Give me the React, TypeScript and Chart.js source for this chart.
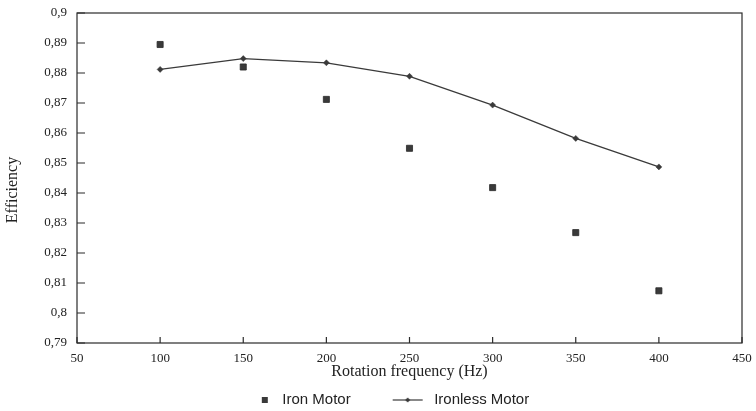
import React, { useEffect, useRef } from 'react';
import { Chart, registerables } from 'chart.js';

Chart.register(...registerables);

// ---- data ----
const frequencies = [100, 150, 200, 250, 300, 350, 400];
const ironMotor = [0.8895, 0.882, 0.8712, 0.8549, 0.8418, 0.8268, 0.8074];
const ironlessMotor = [0.8812, 0.8848, 0.8834, 0.8789, 0.8693, 0.8582, 0.8487];
const seriesNames = ['Iron Motor', 'Ironless Motor'];
const xAxisTitle = 'Rotation frequency (Hz)';
const yAxisTitle = 'Efficiency';
const xRange = [50, 450];
const xStep = 50;
const yRange = [0.79, 0.9];
const yStep = 0.01;

const INK = '#2b2b2b';
const SERIF = "'Liberation Serif', 'Times New Roman', serif";
const SANS = "'Liberation Sans', Arial, sans-serif";

function formatY(v: number): string {
  return String(Math.round(v * 100) / 100).replace('.', ',');
}

function makeIronIcon(): HTMLCanvasElement {
  const c = document.createElement('canvas');
  c.width = 62;
  c.height = 12;
  const ctx = c.getContext('2d')!;
  ctx.fillStyle = '#3a3a3a';
  ctx.fillRect(49, 3, 6, 6);
  return c;
}

function makeIronlessIcon(): HTMLCanvasElement {
  const c = document.createElement('canvas');
  c.width = 62;
  c.height = 12;
  const ctx = c.getContext('2d')!;
  ctx.strokeStyle = '#3a3a3a';
  ctx.lineWidth = 1.2;
  ctx.beginPath();
  ctx.moveTo(28, 6);
  ctx.lineTo(58, 6);
  ctx.stroke();
  ctx.fillStyle = '#3a3a3a';
  ctx.beginPath();
  ctx.moveTo(43, 3.5);
  ctx.lineTo(45.5, 6);
  ctx.lineTo(43, 8.5);
  ctx.lineTo(40.5, 6);
  ctx.closePath();
  ctx.fill();
  return c;
}

const framePlugin = {
  id: 'frameTicks',
  beforeDatasetsDraw(chart: any) {
    const { ctx, chartArea, scales } = chart;
    const { left, right, top, bottom } = chartArea;
    ctx.save();
    ctx.strokeStyle = INK;
    ctx.lineWidth = 1.2;
    ctx.strokeRect(left, top, right - left, bottom - top);
    ctx.beginPath();
    scales.y.ticks.forEach((t: any) => {
      const py = scales.y.getPixelForValue(t.value);
      ctx.moveTo(left, py);
      ctx.lineTo(left + 8, py);
    });
    scales.x.ticks.forEach((t: any) => {
      const px = scales.x.getPixelForValue(t.value);
      ctx.moveTo(px, bottom);
      ctx.lineTo(px, bottom - 6);
    });
    ctx.stroke();
    ctx.restore();
  },
};

export default function App() {
  const ref = useRef<HTMLCanvasElement>(null);

  useEffect(() => {
    if (!ref.current) return;
    const ironIcon = makeIronIcon();
    const ironlessIcon = makeIronlessIcon();
    const icons = [ironIcon, ironlessIcon];

    const chart = new Chart(ref.current, {
      type: 'line',
      data: {
        datasets: [
          {
            label: seriesNames[0],
            data: frequencies.map((f, i) => ({ x: f, y: ironMotor[i] })),
            showLine: false,
            pointStyle: 'rect',
            pointRadius: 4.3,
            backgroundColor: '#3a3a3a',
            borderColor: '#2a2a2a',
            pointBorderWidth: 0.8,
          },
          {
            label: seriesNames[1],
            data: frequencies.map((f, i) => ({ x: f, y: ironlessMotor[i] })),
            showLine: true,
            borderColor: '#3a3a3a',
            borderWidth: 1.3,
            backgroundColor: '#3a3a3a',
            pointStyle: 'rectRot',
            pointRadius: 3,
            pointBorderWidth: 0.5,
            tension: 0,
          },
        ],
      },
      options: {
        animation: false,
        responsive: true,
        maintainAspectRatio: false,
        layout: { padding: { left: 0, right: 14, top: 13, bottom: 0 } },
        plugins: {
          tooltip: { enabled: false },
          legend: {
            position: 'bottom',
            maxHeight: 32.5,
            labels: {
              usePointStyle: true,
              pointStyleWidth: 62,
              boxHeight: 12,
              padding: 14,
              color: '#222',
              font: { family: SANS, size: 15 },
              generateLabels: (c: any) => {
                const items = (Chart as any).defaults.plugins.legend.labels.generateLabels(c);
                items.forEach((it: any, i: number) => {
                  it.pointStyle = icons[i];
                });
                return items;
              },
            },
          },
        },
        scales: {
          x: {
            type: 'linear',
            min: xRange[0],
            max: xRange[1],
            grid: { display: false, drawTicks: false },
            border: { display: false },
            ticks: {
              stepSize: xStep,
              color: '#222',
              padding: 8,
              font: { family: SERIF, size: 13 },
              maxRotation: 0,
            },
            title: {
              display: true,
              text: xAxisTitle,
              color: '#222',
              font: { family: SERIF, size: 16, lineHeight: 0.8 },
              padding: 0,
            },
            afterFit: (s: any) => {
              s.height = 35.5;
              s.paddingLeft = 0;
              s.paddingRight = 0;
            },
          },
          y: {
            type: 'linear',
            min: yRange[0],
            max: yRange[1],
            grid: { display: false, drawTicks: false },
            border: { display: false },
            ticks: {
              stepSize: yStep,
              color: '#222',
              padding: 10,
              font: { family: SERIF, size: 13 },
              callback: (v: any) => formatY(Number(v)),
            },
            title: {
              display: true,
              text: yAxisTitle + '\u00A0\u00A0\u00A0\u00A0\u00A0\u00A0',
              color: '#222',
              font: { family: SERIF, size: 16 },
              padding: { top: 3.5, bottom: 0 },
            },
            afterFit: (s: any) => {
              s.width = 77;
              s.paddingTop = 0;
              s.paddingBottom = 0;
            },
          },
        },
      },
      plugins: [framePlugin],
    } as any);

    return () => chart.destroy();
  }, []);

  return (
    <div style={{ position: 'fixed', left: 0, top: 0, width: 756, height: 411, background: '#fff' }}>
      <canvas ref={ref} />
    </div>
  );
}
